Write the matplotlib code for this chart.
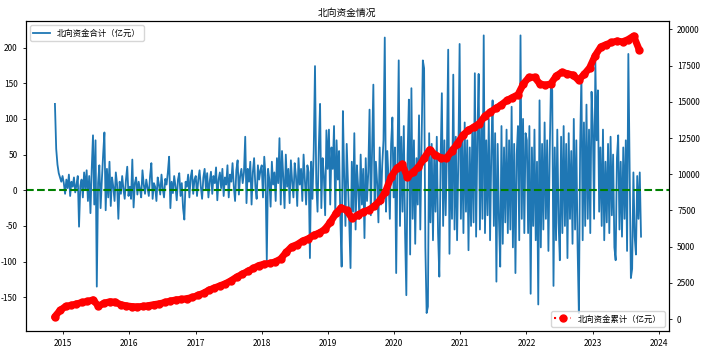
import matplotlib
matplotlib.use("Agg")
import matplotlib.pyplot as plt
import pandas as pd

plt.rcParams['font.family'] = ['Noto Sans CJK SC', 'DejaVu Sans']
plt.rcParams['axes.unicode_minus'] = False

# weekly northbound net flow (亿元), one list per year
flow_2014 = [121, 58, 36, 24, 18, 12, 20]
flow_2015 = [10, -5, 15, 3, 22, -8, 12, 5, 18, -3, 8, 20,
             -51, 6, 15, -10, 25, 2, 28, -15,
             20, -32, 30, 77, -20, 70, -135, 10, 35, -25,
             15, 50, 81, -28, 30, -10, 40, -22, 18, 5,
             -15, 25, 8, -40, 12, -5, 20, 2, -12, 15, 33, -8]
flow_2016 = [5, -12, 43, -24, 10, 18, -6, 12, 2, -10, 28, 8, -5,
             15, 3, -8, 20, 38, -12, 10, 5, -15, 18, 8, -6, 22,
             2, -10, 16, 8, 25, 47, -25, 12, -4, 20, 6, -14, 15,
             24, -8, 10, -25, -41, 12, 5, 22, -10, 18, 28, -5, 15]
flow_2017 = [20, -8, 15, 28, 5, -12, 18, 30, 2, 24, -10, 12, 26,
             -5, 20, 10, 32, -14, 15, 25, 3, 30, -8, 18, 8, 35,
             -10, 22, 12, 38, 5, -15, 28, 42, -6, 20, 30, 10, 25,
             75, -18, 30, 12, 40, -20, 25, 45, 5, -12, 35, 15, 28]
flow_2018 = [35, -10, 47, 20, -98, 30, 15, -23, 40, 8, 25, -15, 45,
             10, 73, -20, 55, 18, -25, 50, 5, 30, -18, 42, 12, -10,
             38, 20, -22, 45, 8, 30, -15, 50, 15, -20, 35, 25, -95,
             40, -12, 55, 174, 10, -30, 60, 121, -25, 45, 20, -35, 84, 30]
flow_2019 = [85, -20, 60, 30, 90, -35, 70, 15, 55, -40, -107, 111, 20,
             -50, 65, 10, -45, -109, 40, -30, 80, -55, 35, 5, -40, 50,
             -20, 30, -67, 45, -15, 25, 113, -35, 55, 148, -25, 40, 10,
             -45, 60, -20, 35, 70, 214, -30, 55, 15, -40, 65, 102, -10]
flow_2020 = [60, -116, 40, 182, -50, 75, -30, 90, -60, -147, 50, 127, -90,
             143, -40, 70, -75, 45, -20, 105, -55, 60, 182, 171, -80, -172,
             -163, 80, -45, 65, -70, 50, -30, 75, -60, -121, 40, 136, -50,
             70, -35, 55, 197, -89, 60, -40, 162, -55, 75, -70, 45, 205]
flow_2021 = [-40, 80, -60, 95, -30, 70, -84, 60, -50, 85, -45, 164, -65,
             75, 163, -55, 90, -40, 217, -60, 70, -35, 100, -70, 55, 126,
             -50, 80, -128, 65, -40, -107, 90, -75, 60, -45, 85, -60, 70,
             -55, 117, -80, 65, -116, 50, 90, -70, 217, -40, 100, -60, 80]
flow_2022 = [70, -60, 90, -145, 60, -50, 85, -70, 40, -160, 126, -80, 65,
             -55, 95, -40, 70, -85, 50, 150, 140, -134, 60, -70, 85, -45,
             -98, 75, -60, 90, -50, 65, -95, 80, -40, 55, -75, 100, -55,
             70, -80, -172, 60, 163, -70, 95, -50, 120, -40, 85, -60, 138]
flow_2023 = [90, -40, 180, 70, 140, -30, 60, -50, 85, -70, 40, -45, 65,
             -60, 75, -35, 50, -80, -98, 45, 77, -55, 40, -65, 60, -40,
             70, -85, 191, 30, -123, -110, 25, -65, -90, 20, -40, 25, -65]

# month-by-month cumulative flow (亿元)
cum_2014 = [150, 600]
cum_2015 = [880, 950, 1050, 1150, 1220, 1330, 900, 1100, 1200, 1180, 1000, 920]
cum_2016 = [870, 850, 880, 930, 1000, 1060, 1150, 1250, 1330, 1360, 1420, 1500]
cum_2017 = [1650, 1800, 2000, 2150, 2300, 2450, 2650, 2900, 3100, 3300, 3500, 3700]
cum_2018 = [3800, 3850, 3950, 4150, 4600, 5000, 5150, 5400, 5550, 5800, 5950, 6200]
cum_2019 = [6700, 7300, 7700, 7500, 6950, 7200, 7400, 7550, 7800, 8200, 8800, 9800]
cum_2020 = [10400, 10700, 9800, 10150, 10500, 11100, 11700, 11350, 11150, 11100, 11600, 12100]
cum_2021 = [12700, 13050, 13250, 13500, 14000, 14300, 14550, 14800, 15100, 15300, 15500, 16250]
cum_2022 = [16700, 16700, 16250, 16150, 16250, 16800, 17050, 16950, 16850, 16500, 16900, 17350]
cum_2023 = [18200, 18800, 18950, 19100, 19200, 19150, 19300, 19550, 18600]

flow = (flow_2014 + flow_2015 + flow_2016 + flow_2017 + flow_2018 + flow_2019
        + flow_2020 + flow_2021 + flow_2022 + flow_2023)
cum = (cum_2014 + cum_2015 + cum_2016 + cum_2017 + cum_2018 + cum_2019
       + cum_2020 + cum_2021 + cum_2022 + cum_2023)

flow_dates = pd.date_range('2014-11-17', periods=len(flow), freq='W-MON')
cum_dates = pd.date_range('2014-11-01', periods=len(cum), freq='MS') + pd.Timedelta(days=14)

fig = plt.figure(figsize=(7.01, 3.52), dpi=100)
ax = fig.add_axes([0.037, 0.06, 0.917, 0.88])
ax.plot(flow_dates, flow, color='#1f77b4', lw=1.3, label='北向资金合计（亿元）')
ax.axhline(0, color='green', ls='--', lw=1.5)
ax.set_ylim(-197, 237)
ax.set_xlim(pd.Timestamp('2014-06-10'), pd.Timestamp('2024-02-25'))
ax.legend(loc='upper left', fontsize=6)
ax.set_title('北向资金情况', fontsize=7, pad=4)
ax.tick_params(labelsize=6, length=2.5, width=0.6)

ax2 = ax.twinx()
ax2.plot(cum_dates, cum, color='red', lw=5, solid_capstyle='round')
ax2.plot(cum_dates, cum, 'r:o', ms=5, label='北向资金累计（亿元）')
ax2.set_ylim(-812, 20576)
ax2.set_yticks(range(0, 20001, 2500))
ax2.legend(loc='lower right', fontsize=6)
ax2.tick_params(labelsize=6, length=2.5, width=0.6)

fig.savefig('out.png', dpi=100)
